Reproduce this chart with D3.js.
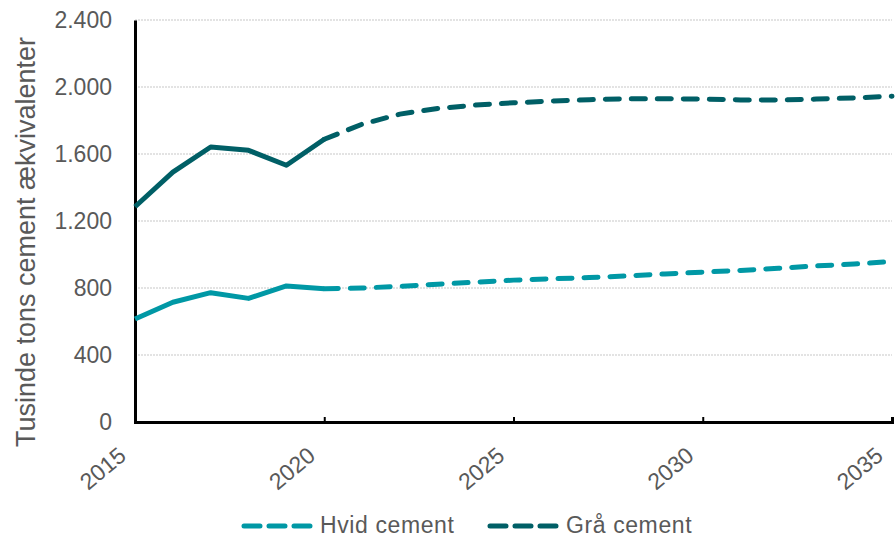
<!DOCTYPE html>
<html>
<head>
<meta charset="utf-8">
<script src="https://cdn.jsdelivr.net/npm/d3@7"></script>
<style>
  html, body { margin: 0; padding: 0; background: #fff; }
  svg { display: block; font-family: "Liberation Sans", Arial, sans-serif; }
</style>
</head>
<body>
<svg id="chart" width="895" height="539"></svg>
<script>
// Cement consumption, thousand tonnes cement equivalent
const years = [2015, 2016, 2017, 2018, 2019, 2020, 2021, 2022, 2023, 2024, 2025,
               2026, 2027, 2028, 2029, 2030, 2031, 2032, 2033, 2034, 2035];
const hvidCement = [615, 715, 772, 738, 812, 795, 800, 810, 823, 835, 847,
                    855, 862, 872, 884, 895, 905, 918, 932, 943, 958];
const graaCement = [1285, 1492, 1642, 1622, 1533, 1688, 1778, 1838, 1872, 1892, 1906,
                    1916, 1924, 1930, 1930, 1928, 1923, 1922, 1928, 1935, 1945];
const lastActualYear = 2020;
const yTicks = [0, 400, 800, 1200, 1600, 2000, 2400];
const xTicks = [2015, 2020, 2025, 2030, 2035];
const seriesNames = ["Hvid cement", "Grå cement"];
const seriesColors = ["#0098a5", "#005f66"];
const yAxisTitle = "Tusinde tons cement ækvivalenter";

const svg = d3.select("#chart");
const margin = { left: 135, right: 3, top: 20, bottom: 117 };
const W = 895, H = 539;

const x = d3.scaleLinear().domain([2015, 2035]).range([margin.left, W - margin.right]);
const y = d3.scaleLinear().domain([0, 2400]).range([H - margin.bottom, margin.top]);

const fmt = v => d3.format(",")(v).replace(/,/g, ".");

// Horizontal gridlines
svg.append("g")
  .selectAll("line")
  .data(yTicks.filter(d => d > 0))
  .join("line")
  .attr("x1", x(2015)).attr("x2", x(2035))
  .attr("y1", d => y(d)).attr("y2", d => y(d))
  .attr("stroke", "#c8c8c8")
  .attr("stroke-width", 1.2)
  .attr("stroke-dasharray", "2,1");

// Y axis
const yAxis = svg.append("g")
  .attr("transform", `translate(${x(2015)},0)`)
  .call(d3.axisLeft(y).tickValues(yTicks).tickFormat(fmt).tickSize(0).tickPadding(23));
yAxis.select(".domain").attr("stroke", "#000").attr("stroke-width", 3);
yAxis.selectAll("text").attr("fill", "#595959").attr("font-size", 23);

// X axis
const xAxis = svg.append("g")
  .attr("transform", `translate(0,${y(0)})`)
  .call(d3.axisBottom(x).tickValues(xTicks).tickFormat(d3.format("d")).tickSize(-5).tickPadding(0));
xAxis.select(".domain").attr("stroke", "#000").attr("stroke-width", 3);
xAxis.selectAll(".tick line").attr("stroke", "#000").attr("stroke-width", 2);
xAxis.selectAll("text")
  .attr("fill", "#595959")
  .attr("font-size", 23)
  .attr("text-anchor", "end")
  .attr("dy", "0")
  .attr("transform", "translate(-8,36) rotate(-40)");

// Y axis title
svg.append("text")
  .attr("transform", `translate(35,242) rotate(-90)`)
  .attr("text-anchor", "middle")
  .attr("fill", "#595959")
  .attr("font-size", 27)
  .text(yAxisTitle);

// Series lines: solid for actual values, dashed for projections
const line = d3.line().x(d => x(d[0])).y(d => y(d[1]));
[hvidCement, graaCement].forEach((vals, i) => {
  const pts = years.map((yr, k) => [yr, vals[k]]);
  const actual = pts.filter(p => p[0] <= lastActualYear);
  const proj = pts.filter(p => p[0] >= lastActualYear);
  svg.append("path")
    .attr("d", line(actual))
    .attr("fill", "none")
    .attr("stroke", seriesColors[i])
    .attr("stroke-width", 5)
    .attr("stroke-linejoin", "round");
  svg.append("path")
    .attr("d", line(proj))
    .attr("fill", "none")
    .attr("stroke", seriesColors[i])
    .attr("stroke-width", 5)
    .attr("stroke-linecap", "round")
    .attr("stroke-dasharray", "14,12");
});

// Legend
const legendItems = [
  { name: seriesNames[0], color: seriesColors[0], x0: 244 },
  { name: seriesNames[1], color: seriesColors[1], x0: 490 }
];
const lg = svg.append("g").attr("transform", "translate(0,526)");
legendItems.forEach(it => {
  lg.append("line")
    .attr("x1", it.x0).attr("x2", it.x0 + 66)
    .attr("y1", 0).attr("y2", 0)
    .attr("stroke", it.color)
    .attr("stroke-width", 5)
    .attr("stroke-linecap", "round")
    .attr("stroke-dasharray", "16,9");
  lg.append("text")
    .attr("x", it.x0 + 76)
    .attr("y", 7)
    .attr("fill", "#595959")
    .attr("font-size", 23)
    .attr("letter-spacing", 0.6)
    .text(it.name);
});
</script>
</body>
</html>
